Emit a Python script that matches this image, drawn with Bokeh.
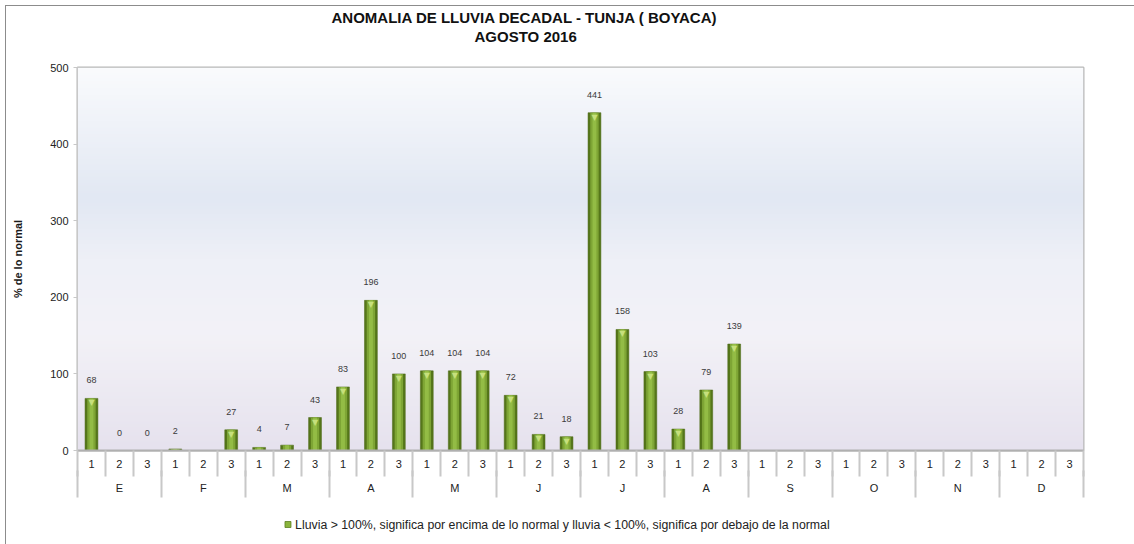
import numpy as np
from bokeh.plotting import figure
from bokeh.layouts import column
from bokeh.models import (Range1d, LinearAxis, FixedTicker, ColumnDataSource, Title)
from bokeh.core.properties import value
from bokeh.embed import file_html
from bokeh.resources import INLINE

# ---- data ----
months = ["E", "F", "M", "A", "M", "J", "J", "A", "S", "O", "N", "D"]
decades = ["1", "2", "3"]
anomaly = [68, 0, 0,
           2, None, 27,
           4, 7, 43,
           83, 196, 100,
           104, 104, 104,
           72, 21, 18,
           441, 158, 103,
           28, 79, 139,
           None, None, None,
           None, None, None,
           None, None, None,
           None, None, None]
y_ticks = [0, 100, 200, 300, 400, 500]
title1 = "ANOMALIA DE LLUVIA DECADAL - TUNJA ( BOYACA)"
title2 = "AGOSTO 2016"
legend_text = "Lluvia > 100%, significa por encima de lo normal y lluvia < 100%, significa por debajo de la normal"

n = len(months) * len(decades)
xs = list(range(1, n + 1))
tops = [np.nan if v is None else v for v in anomaly]
lab_x = [x for x, v in zip(xs, anomaly) if v is not None]
lab_y = [v for v in anomaly if v is not None]
lab_t = [str(v) for v in anomaly if v is not None]

FONT = "Liberation Sans"
W = 1128

p = figure(width=W, height=492, output_backend="svg", toolbar_location=None,
           x_range=Range1d(0.5, n + 0.5), y_range=Range1d(0, 500),
           x_axis_type=None, y_axis_type=None,
           min_border_left=71, min_border_right=51, min_border_top=61, min_border_bottom=48)
p.outline_line_color = "#b8b8b8"
p.outline_line_width = 2
p.background_fill_color = None
p.border_fill_color = "white"

# background gradient of the plot area
stops_v = [0, 150, 250, 330, 430, 500]
stops_c = [(230, 226, 238), (243, 242, 247), (238, 240, 247), (226, 232, 243), (240, 243, 249), (250, 251, 253)]
ny = 250
yy = np.linspace(0, 500, ny)
img = np.zeros((ny, 1), dtype=np.uint32)
view = img.view(dtype=np.uint8).reshape((ny, 1, 4))
for ch in range(3):
    view[:, 0, ch] = np.interp(yy, stops_v, [c[ch] for c in stops_c]).astype(np.uint8)
view[:, 0, 3] = 255
p.image_rgba(image=[img], x=0.5, y=0, dw=n, dh=500, level="image")

# y axis
yax = LinearAxis(ticker=FixedTicker(ticks=y_ticks, minor_ticks=[]))
yax.axis_label = "% de lo normal"
yax.axis_label_text_font = FONT
yax.axis_label_text_font_style = "bold"
yax.axis_label_text_font_size = "11px"
yax.axis_label_text_color = "#1a1a1a"
yax.axis_label_standoff = 23
yax.major_label_text_font = FONT
yax.major_label_text_font_size = "11px"
yax.major_label_text_color = "#222222"
yax.axis_line_color = "#c8c8c8"
yax.major_tick_line_color = "#c8c8c8"
yax.major_tick_out = 4
yax.major_tick_in = 0
yax.minor_tick_line_color = None
p.add_layout(yax, "left")
p.ygrid.ticker = FixedTicker(ticks=y_ticks)
p.ygrid.grid_line_color = "#a8a8a8"
p.ygrid.grid_line_width = 2
p.xgrid.grid_line_color = None

# x axis: decades
xax1 = LinearAxis(ticker=FixedTicker(ticks=xs, minor_ticks=[i + 0.5 for i in range(0, n + 1)]))
xax1.major_label_overrides = {x: decades[(x - 1) % 3] for x in xs}
xax1.major_label_text_font = FONT
xax1.major_label_text_font_size = "11px"
xax1.major_label_text_color = "#222222"
xax1.major_label_standoff = -17
xax1.major_tick_out = 0
xax1.major_tick_in = 0
xax1.minor_tick_in = 0
xax1.minor_tick_out = 26
xax1.minor_tick_line_color = "#c8c8c8"
xax1.minor_tick_line_width = 2
xax1.axis_line_color = "#b0b0b0"
xax1.axis_line_width = 2
p.add_layout(xax1, "below")

# x axis: months
mcent = [3 * i + 2 for i in range(len(months))]
xax2 = LinearAxis(ticker=FixedTicker(ticks=mcent, minor_ticks=[3 * i + 0.5 for i in range(len(months) + 1)]))
xax2.major_label_overrides = {c: m for c, m in zip(mcent, months)}
xax2.major_label_text_font = FONT
xax2.major_label_text_font_size = "11px"
xax2.major_label_text_color = "#222222"
xax2.major_label_standoff = -16
xax2.major_tick_out = 0
xax2.major_tick_in = 0
xax2.minor_tick_in = 0
xax2.minor_tick_out = 27
xax2.minor_tick_line_color = "#c8c8c8"
xax2.minor_tick_line_width = 2
xax2.axis_line_color = None
p.add_layout(xax2, "below")

# bars
src = ColumnDataSource(dict(x=xs, top=tops))
p.vbar(x="x", top="top", width=0.46, source=src, fill_color="#55761a", line_color="#4a6614", line_width=0.5)
p.vbar(x="x", top="top", width=0.3, source=src, fill_color="#7ea535", line_color=None)
p.vbar(x="x", top="top", width=0.14, source=src, fill_color="#93bc45", line_color=None)
tri_x = [x for x, v in zip(lab_x, lab_y) if v >= 8]
tri_y = [v for v in lab_y if v >= 8]
p.text(x=tri_x, y=tri_y, text=["▼"] * len(tri_x), text_font=value("DejaVu Sans"),
       text_font_size="8px", text_color="#c6e07c", text_align="center", text_baseline="top", y_offset=0)

# data labels
p.text(x=lab_x, y=lab_y, text=lab_t, text_font=value(FONT), text_font_size="9px",
       text_color="#3a3a3a", text_align="center", text_baseline="middle", y_offset=-18)

# titles (stacked above the frame: spacer, subtitle, main title)
spacer = Title(text="\u00a0", text_color="white", text_font_size="19px", standoff=0)
sub = Title(text=title2, align="left", offset=397, text_font=FONT, text_font_style="bold",
            text_font_size="15px", text_color="#111111", standoff=0)
main = Title(text=title1, align="left", offset=254, text_font=FONT, text_font_style="bold",
             text_font_size="15px", text_color="#111111", standoff=0)
p.add_layout(spacer, "above")
p.add_layout(sub, "above")
p.add_layout(main, "above")

# legend strip (a second, axis-less figure under the chart)
LH = 46
q = figure(width=W, height=LH, output_backend="svg", toolbar_location=None,
           x_range=Range1d(0, W), y_range=Range1d(0, LH),
           x_axis_type=None, y_axis_type=None,
           min_border_left=0, min_border_right=0, min_border_top=0, min_border_bottom=0)
q.outline_line_color = None
q.grid.grid_line_color = None
q.background_fill_color = "white"
q.border_fill_color = "white"
q.scatter(x=[236], y=[20], marker="square", size=6, fill_color="#8ab43c", line_color="#5c7d1f", line_width=0.8)
q.text(x=[244], y=[20], text=[legend_text], text_font=value(FONT), text_font_size="12.3px",
       text_color="#222222", text_align="left", text_baseline="middle")

layout = column(p, q, spacing=0)
layout.styles = {"border-top": "1px solid #8c8c8c", "border-left": "1px solid #8c8c8c",
                 "margin": "5px 0 0 5px"}

open("out.html", "w").write(file_html(layout, INLINE))
